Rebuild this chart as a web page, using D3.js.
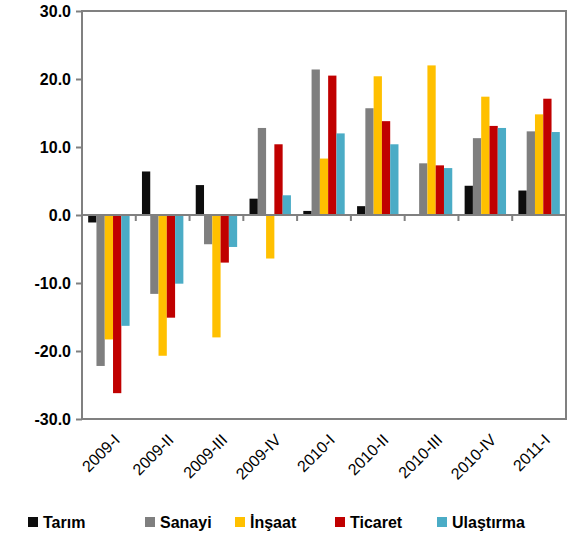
<!DOCTYPE html><html><head><meta charset="utf-8"><script src="https://cdn.jsdelivr.net/npm/d3@7"></script>
<style>body{margin:0;background:#fff}text{font-family:"Liberation Sans",Arial,sans-serif;font-weight:bold}text.xl{font-weight:normal}</style></head><body><svg id="c" width="574" height="540"></svg><script>
const categories=["2009-I","2009-II","2009-III","2009-IV","2010-I","2010-II","2010-III","2010-IV","2011-I"];
const seriesNames=["Tarım","Sanayi","İnşaat","Ticaret","Ulaştırma"];
const colors=["#0d0d0d","#7f7f7f","#ffc000","#c00000","#4bacc6"];
const tarim=[-1.1,6.4,4.4,2.4,0.6,1.3,0,4.3,3.6];
const sanayi=[-22.2,-11.6,-4.3,12.8,21.4,15.7,7.6,11.3,12.3];
const insaat=[-18.3,-20.7,-18.0,-6.4,8.3,20.4,22.0,17.4,14.8];
const ticaret=[-26.2,-15.1,-7.0,10.4,20.5,13.8,7.3,13.1,17.1];
const ulastirma=[-16.3,-10.1,-4.7,2.9,12.0,10.4,6.9,12.8,12.2];
const yTicks=[-30,-20,-10,0,10,20,30];
const series=[tarim,sanayi,insaat,ticaret,ulastirma];
const svg=d3.select("#c");
const L=82,R=566,T=11,B=419;
const x=d3.scaleBand().domain(categories).range([L,R]).paddingInner(0.23).paddingOuter(0.115);
const xs=d3.scaleBand().domain(seriesNames).range([0,x.bandwidth()]);
const y=d3.scaleLinear().domain([-30,30]).range([B,T]);
const g=svg.append("g");
series.forEach((vals,si)=>{
 g.selectAll(null).data(vals.map((v,i)=>({v,c:categories[i]}))).join("rect")
  .attr("x",d=>x(d.c)+xs(seriesNames[si])).attr("width",xs.bandwidth())
  .attr("y",d=>y(Math.max(0,d.v))).attr("height",d=>Math.abs(y(d.v)-y(0)))
  .attr("fill",colors[si]);
});
const gc="#808080";
svg.append("rect").attr("x",L).attr("y",T).attr("width",R-L).attr("height",B-T).attr("fill","none").attr("stroke",gc).attr("stroke-width",2);
const ya=svg.append("g").attr("transform",`translate(${L},0)`).call(d3.axisLeft(y).tickValues(yTicks).tickFormat(d=>d.toFixed(1)).tickSize(6));
ya.select(".domain").remove();
ya.selectAll("line").attr("stroke",gc).attr("stroke-width",2);
ya.selectAll("text").attr("font-size",16).attr("fill","#000").attr("dx",-2);
svg.append("line").attr("x1",L).attr("x2",R).attr("y1",y(0)).attr("y2",y(0)).attr("stroke",gc).attr("stroke-width",2);
const step=(R-L)/categories.length;
const bx=d3.range(1,categories.length).map(i=>L+i*step);
svg.selectAll(null).data(bx).join("line").attr("x1",d=>d).attr("x2",d=>d).attr("y1",y(0)).attr("y2",y(0)+6).attr("stroke",gc).attr("stroke-width",2);
svg.selectAll(null).data(categories).join("text").attr("class","xl").attr("font-size",16)
 .attr("transform",d=>`translate(${x(d)+x.bandwidth()/2+4},${B+14}) rotate(-45)`).attr("text-anchor","end").attr("dy","0.7em").text(d=>d);
const lx=[28,145,235,335,437];
seriesNames.forEach((n,i)=>{
 svg.append("rect").attr("x",lx[i]).attr("y",517).attr("width",10).attr("height",10).attr("fill",colors[i]);
 svg.append("text").attr("x",lx[i]+15).attr("y",528).attr("font-size",16).text(n);
});
</script></body></html>
